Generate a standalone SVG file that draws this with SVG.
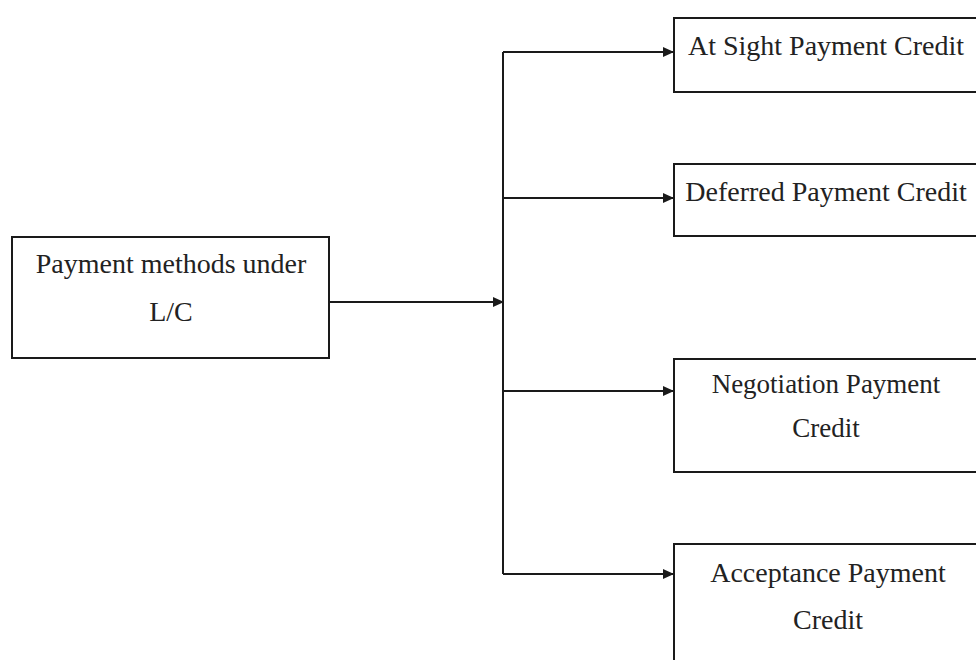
<svg xmlns="http://www.w3.org/2000/svg" width="976" height="660" viewBox="0 0 976 660">
<style>
.box{fill:#ffffff;stroke:#1a1a1a;stroke-width:2}
.lbl{font-family:"Liberation Serif","Times New Roman",serif;font-size:28px;fill:#222;text-anchor:middle}
.con{fill:none;stroke:#1a1a1a;stroke-width:2}
</style>
<defs>
<marker id="arr" markerWidth="12" markerHeight="10" refX="11" refY="5" orient="auto" markerUnits="userSpaceOnUse">
<path d="M0,0 L11,5 L0,10 Z" fill="#1a1a1a"/>
</marker>
</defs>
<rect width="976" height="660" fill="#ffffff"/>
<g id="connectors">
<path class="con" d="M329,302 H504" marker-end="url(#arr)"/>
<path class="con" d="M503,52 V574"/>
<path class="con" d="M503,52 H674" marker-end="url(#arr)"/>
<path class="con" d="M503,198 H674" marker-end="url(#arr)"/>
<path class="con" d="M503,391 H674" marker-end="url(#arr)"/>
<path class="con" d="M503,574 H674" marker-end="url(#arr)"/>
</g>
<g id="node-main">
<rect class="box" x="12" y="237" width="317" height="121"/>
<text class="lbl" x="171" y="273">Payment methods under</text>
<text class="lbl" x="171" y="321">L/C</text>
</g>
<g id="node-sight">
<rect class="box" x="674" y="18" width="320" height="74"/>
<text class="lbl" x="826" y="55">At Sight Payment Credit</text>
</g>
<g id="node-deferred">
<rect class="box" x="674" y="164" width="320" height="72"/>
<text class="lbl" x="826" y="201">Deferred Payment Credit</text>
</g>
<g id="node-negotiation">
<rect class="box" x="674" y="359" width="320" height="113"/>
<text class="lbl" x="826" y="393" style="font-size:27px">Negotiation Payment</text>
<text class="lbl" x="826" y="437" style="font-size:27px">Credit</text>
</g>
<g id="node-acceptance">
<rect class="box" x="674" y="544" width="320" height="140"/>
<text class="lbl" x="828" y="582">Acceptance Payment</text>
<text class="lbl" x="828" y="629">Credit</text>
</g>
</svg>
